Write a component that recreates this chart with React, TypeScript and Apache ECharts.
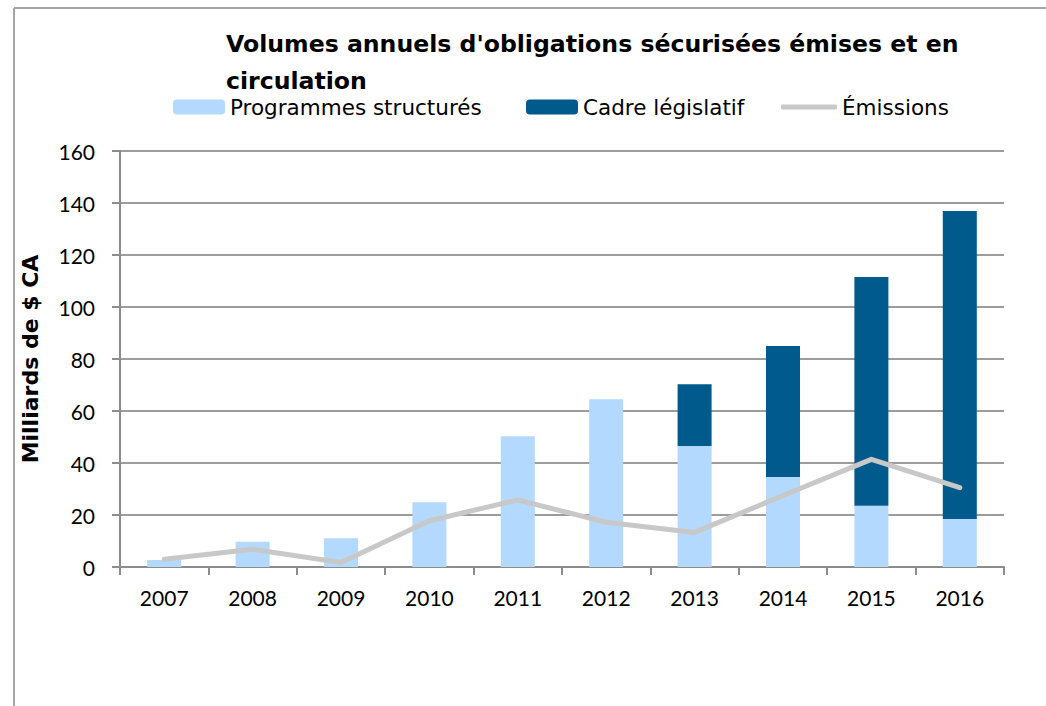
import React, { useEffect, useRef } from "react";
import * as echarts from "echarts";

const years = ["2007", "2008", "2009", "2010", "2011", "2012", "2013", "2014", "2015", "2016"];
const programmesStructures = [2.7, 9.7, 11.1, 24.9, 50.3, 64.5, 46.5, 34.6, 23.6, 18.5];
const cadreLegislatif = [0, 0, 0, 0, 0, 0, 23.8, 50.4, 87.9, 118.4];
const emissions = [3, 6.8, 1.7, 17.8, 25.8, 17.2, 13.3, 27.5, 41.4, 30.5];

const FONT = "Lato, 'DejaVu Sans', sans-serif";
const WIDE = "'DejaVu Sans', sans-serif";

export default function App() {
  const ref = useRef<HTMLDivElement>(null);
  useEffect(() => {
    if (!ref.current) return;
    const chart = echarts.init(ref.current, null, { renderer: "svg" });
    const legendText = { fontFamily: WIDE, fontSize: 21.5, color: "#000" };
    chart.setOption({
      animation: false,
      backgroundColor: "#ffffff",
      textStyle: { fontFamily: FONT },
      title: {
        text: "Volumes annuels d'obligations sécurisées émises et en\ncirculation",
        left: 221,
        top: 20,
        textStyle: { fontFamily: WIDE, fontWeight: "bold", fontSize: 23.6, lineHeight: 37, color: "#000" },
      },
      legend: [
        {
          data: ["Programmes structurés"],
          left: 168,
          top: 91,
          itemWidth: 52,
          itemHeight: 15,
          textStyle: legendText,
        },
        {
          data: ["Cadre législatif"],
          left: 521,
          top: 91,
          itemWidth: 52,
          itemHeight: 15,
          textStyle: legendText,
        },
        {
          data: [{ name: "Émissions", icon: "roundRect" }],
          left: 776,
          top: 91,
          itemWidth: 56,
          itemHeight: 5,
          textStyle: legendText,
        },
      ],
      grid: { left: 120, right: 42, top: 151, bottom: 139, containLabel: false },
      xAxis: {
        type: "category",
        data: years,
        axisLine: { lineStyle: { color: "#8c8c8c", width: 2 } },
        axisTick: { show: true, length: 8, lineStyle: { color: "#8c8c8c", width: 2 } },
        axisLabel: { fontFamily: FONT, fontSize: 21, color: "#000", margin: 20 },
      },
      yAxis: {
        type: "value",
        min: 0,
        max: 160,
        interval: 20,
        name: "Milliards de $ CA",
        nameLocation: "middle",
        nameRotate: 90,
        nameGap: 79,
        nameTextStyle: { fontFamily: WIDE, fontWeight: "bold", fontSize: 22, color: "#000" },
        axisLine: { show: true, lineStyle: { color: "#8c8c8c", width: 2 } },
        axisTick: { show: true, length: 8, lineStyle: { color: "#8c8c8c", width: 2 } },
        axisLabel: { fontFamily: FONT, fontSize: 21, color: "#000", margin: 25 },
        splitLine: { show: true, lineStyle: { color: "#9c9c9c", width: 2 } },
      },
      series: [
        {
          name: "Programmes structurés",
          type: "bar",
          stack: "total",
          barWidth: 34,
          data: programmesStructures,
          itemStyle: { color: "#b3d9ff" },
        },
        {
          name: "Cadre législatif",
          type: "bar",
          stack: "total",
          barWidth: 34,
          data: cadreLegislatif,
          itemStyle: { color: "#005a8c" },
        },
        {
          name: "Émissions",
          type: "line",
          data: emissions,
          symbol: "none",
          lineStyle: { color: "#c8c8c8", width: 5, cap: "round", join: "round" },
          itemStyle: { color: "#c8c8c8" },
          z: 5,
        },
      ],
      graphic: [
        { type: "line", shape: { x1: 14, y1: 8, x2: 1046, y2: 8 }, style: { stroke: "#a6a6a6", lineWidth: 2 } },
        { type: "line", shape: { x1: 14, y1: 8, x2: 14, y2: 706 }, style: { stroke: "#a6a6a6", lineWidth: 2 } },
      ],
    });
    return () => chart.dispose();
  }, []);
  return <div ref={ref} style={{ position: "fixed", left: 0, top: 0, width: 1046, height: 706 }} />;
}
